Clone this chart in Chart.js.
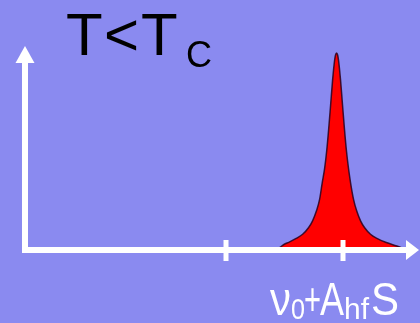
<!DOCTYPE html>
<html>
<head>
<meta charset="utf-8">
<title>T&lt;Tc spectrum</title>
<script src="https://cdn.jsdelivr.net/npm/chart.js@4/dist/chart.umd.min.js"></script>
<style>
  html, body { margin: 0; padding: 0; background: #8a8af0; }
  canvas { display: block; }
</style>
</head>
<body>
<canvas id="spectrum" width="420" height="323"></canvas>
<script>
// frequency axis: nu0 = 0, nu0 + Ahf*S = 100
const freq = [43.5, 46.5, 49.5, 54, 60, 65.5, 70.5, 74, 77.4, 80, 82.2, 84.2, 86, 87.7, 89.4, 91.1, 92.8, 93.6,
  94.5, 95.4, 96.2, 97.9, 99.6, 101.3, 103, 104.8, 106.5, 109, 111.6, 115, 118.5, 123.5, 129, 137, 146, 154.5];
const intensity = [0, 0.015, 0.028, 0.04, 0.059, 0.08, 0.113, 0.148, 0.20, 0.257, 0.34, 0.41, 0.50, 0.61, 0.735, 0.862, 0.962, 0.99,
  1.00, 0.99, 0.962, 0.862, 0.735, 0.61, 0.50, 0.41, 0.34, 0.257, 0.20, 0.148, 0.113, 0.08, 0.059, 0.038, 0.02, 0];
const tickValues = [0, 100];
const title = [['T', 'main'], ['<', 'main'], ['T', 'main'], ['C', 'sub']];
const tickLabel = [['ν', 'main'], ['0', 'sub'], ['+', 'main'], ['A', 'main'], ['hf', 'sub'], ['S', 'main']];

const BG = '#8a8af0';
const WHITE = '#ffffff';
const FONT = '"Liberation Sans", Arial, sans-serif';

const points = freq.map((f, i) => ({ x: f, y: intensity[i] }));

// white axes with arrow heads + tick marks, drawn over the filled peak
const axesPlugin = {
  id: 'axes',
  beforeDraw(chart) {
    const { ctx, width, height } = chart;
    ctx.save();
    ctx.fillStyle = BG;
    ctx.fillRect(0, 0, width, height);
    ctx.restore();
  },
  afterDatasetsDraw(chart) {
    const { ctx, chartArea: a, scales: { x } } = chart;
    const x0 = a.left, y0 = a.bottom;
    ctx.save();
    ctx.strokeStyle = WHITE;
    ctx.fillStyle = WHITE;
    ctx.lineWidth = 6;
    ctx.lineCap = 'butt';

    // vertical axis
    ctx.beginPath();
    ctx.moveTo(x0, y0 + 3);
    ctx.lineTo(x0, a.top + 14);
    ctx.stroke();
    ctx.beginPath();
    ctx.moveTo(x0, a.top);
    ctx.lineTo(x0 + 9.5, a.top + 17);
    ctx.lineTo(x0 - 9.5, a.top + 17);
    ctx.closePath();
    ctx.fill();

    // horizontal axis
    ctx.beginPath();
    ctx.moveTo(x0 - 3, y0);
    ctx.lineTo(a.right - 10, y0);
    ctx.stroke();
    ctx.beginPath();
    ctx.moveTo(a.right + 1, y0);
    ctx.lineTo(a.right - 12, y0 - 10);
    ctx.lineTo(a.right - 12, y0 + 10);
    ctx.closePath();
    ctx.fill();

    // tick marks
    ctx.lineWidth = 5;
    tickValues.forEach(v => {
      const px = x.getPixelForValue(v);
      ctx.beginPath();
      ctx.moveTo(px, y0 - 10);
      ctx.lineTo(px, y0 + 11);
      ctx.stroke();
    });
    ctx.restore();
  },
  afterDraw(chart) {
    const { ctx } = chart;
    ctx.save();
    ctx.textBaseline = 'alphabetic';

    // title
    ctx.fillStyle = '#000000';
    const titleX = [66, 104, 141, 186];
    title.forEach(([txt, kind], i) => {
      if (kind === 'sub') {
        ctx.font = '36px ' + FONT;
        ctx.fillText(txt, titleX[i], 67);
      } else {
        ctx.font = '60px ' + FONT;
        ctx.fillText(txt, titleX[i], 55);
      }
    });

    // label under the right tick
    ctx.fillStyle = WHITE;
    const slots = [[270, 21], [291, 14], [304, 17], [320, 24], [344, 26], [371, 28]];
    tickLabel.forEach(([txt, kind], i) => {
      const [sx, w] = slots[i];
      if (kind === 'sub') {
        ctx.font = '30px ' + FONT;
        ctx.fillText(txt, sx, 319, w);
      } else {
        ctx.font = '46px ' + FONT;
        ctx.fillText(txt, sx, 315, w);
      }
    });
    ctx.restore();
  }
};

new Chart(document.getElementById('spectrum'), {
  type: 'line',
  data: {
    datasets: [{
      data: points,
      borderColor: 'rgba(40, 0, 30, 0.85)',
      borderWidth: 1.5,
      backgroundColor: '#ff0000',
      fill: 'origin',
      pointRadius: 0,
      cubicInterpolationMode: 'monotone'
    }]
  },
  options: {
    responsive: false,
    animation: false,
    layout: { padding: { left: 25, right: 2, top: 46, bottom: 73 } },
    plugins: { legend: { display: false }, tooltip: { enabled: false } },
    scales: {
      x: { type: 'linear', min: -171.8, max: 164.1, display: false },
      y: { min: 0, max: 1.0355, display: false }
    }
  },
  plugins: [axesPlugin]
});
</script>
</body>
</html>
